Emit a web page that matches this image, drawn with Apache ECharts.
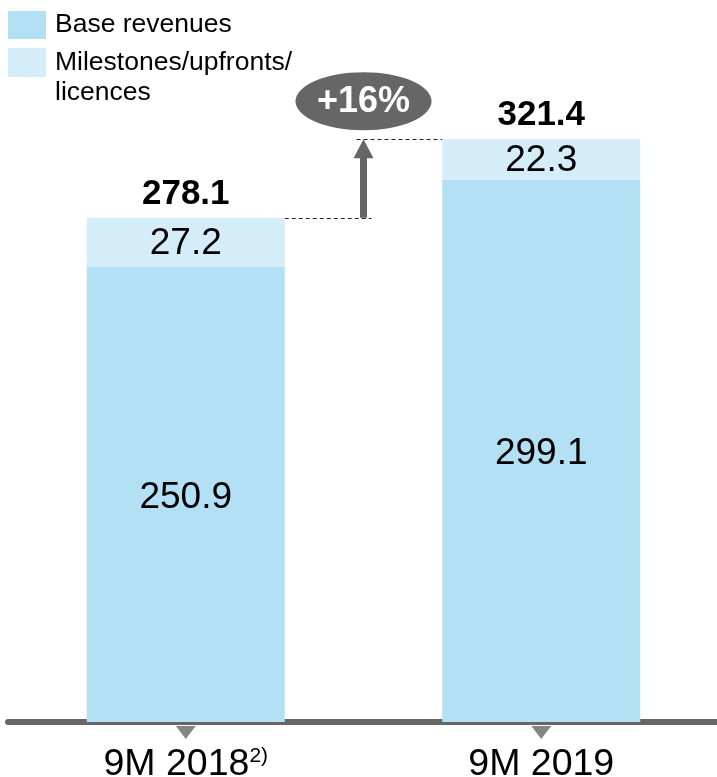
<!DOCTYPE html>
<html>
<head>
<meta charset="utf-8">
<script src="https://cdn.jsdelivr.net/npm/echarts@6/dist/echarts.min.js"></script>
<style>
  html, body { margin: 0; padding: 0; background: #fff; }
  #main { width: 717px; height: 777px; }
</style>
</head>
<body>
<div id="main"></div>
<script>
// values
var categories = ['9M 2018', '9M 2019'];
var footnotes = ['2)', ''];
var baseRevenues = [250.9, 299.1];
var milestones = [27.2, 22.3];
var totals = [278.1, 321.4];
var growthLabel = '+16%';

var baseColor = '#B3E0F5';
var mileColor = '#D5EDF9';
var grey = '#666666';
var font = 'Liberation Sans';
var barWidth = 198;

var dom = document.getElementById('main');
var myChart = echarts.init(dom);

option = {
    animation: false,
    textStyle: { fontFamily: font },
    legend: [
        {
            data: ['Base revenues'],
            orient: 'vertical',
            left: 8,
            top: 7,
            padding: 0,
            icon: 'rect',
            itemWidth: 38,
            itemHeight: 28,
            selectedMode: false,
            // top padding nudges the text down a bit next to the box
            textStyle: { fontSize: 26.5, lineHeight: 30, color: '#000', fontFamily: font, padding: [6, 0, 0, 4] }
        },
        {
            // wrapped entry: blank first line so the box sits next to the first text line
            data: ['Milestones/upfronts/licences'],
            orient: 'vertical',
            left: 8,
            top: 17.5,
            padding: 0,
            icon: 'rect',
            itemWidth: 38,
            itemHeight: 29,
            selectedMode: false,
            formatter: function (name) { return ' \nMilestones/upfronts/\nlicences'; },
            textStyle: { fontSize: 26.5, lineHeight: 30, color: '#000', fontFamily: font, padding: [0, 0, 0, 4] }
        }
    ],
    grid: { left: 8, right: -2, top: 33, bottom: 55, outerBoundsMode: 'none', containLabel: false },
    xAxis: {
        type: 'category',
        data: categories,
        offset: 3,
        axisLine: { lineStyle: { color: grey, width: 6 } },
        axisTick: { show: false },
        axisLabel: {
            color: '#000',
            fontSize: 37.5,
            lineHeight: 38,
            margin: 21,
            interval: 0,
            hideOverlap: false,
            fontFamily: font,
            formatter: function (v, i) {
                return footnotes[i] ? v + '{sup|' + footnotes[i] + '}' : v;
            },
            rich: {
                sup: { fontSize: 21, verticalAlign: 'top', lineHeight: 38, color: '#000', fontFamily: font }
            }
        }
    },
    yAxis: {
        type: 'value',
        min: 0,
        max: 380,
        show: false,
        splitLine: { show: false }
    },
    series: [
        {
            name: 'Base revenues',
            type: 'bar',
            stack: 'rev',
            barWidth: barWidth,
            data: baseRevenues,
            itemStyle: { color: baseColor },
            label: { show: true, position: 'inside', offset: [0, 3], color: '#000', fontSize: 37, fontFamily: font },
            silent: true
        },
        {
            name: 'Milestones/upfronts/licences',
            type: 'bar',
            stack: 'rev',
            barWidth: barWidth,
            data: milestones,
            itemStyle: { color: mileColor },
            label: { show: true, position: 'inside', offset: [0, 1], color: '#000', fontSize: 37, fontFamily: font },
            silent: true
        },
        {
            name: 'Total',
            type: 'bar',
            barWidth: barWidth,
            barGap: '-100%',
            data: totals,
            itemStyle: { color: 'rgba(0,0,0,0)' },
            label: { show: true, position: 'top', distance: 6, color: '#000', fontSize: 35, fontWeight: 'bold', fontFamily: font },
            silent: true,
            z: 1
        },
        {
            // little pointers under the axis
            type: 'scatter',
            data: categories.map(function (c) { return [c, 0]; }),
            symbol: 'triangle',
            symbolRotate: 180,
            symbolSize: [20, 13],
            symbolOffset: [0, 10.5],
            itemStyle: { color: grey },
            clip: false,
            silent: true,
            z: 3
        }
    ]
};
myChart.setOption(option);

// growth arrow, dashed guides and the +16% bubble, placed from the bar tops
var p1 = myChart.convertToPixel({ xAxisIndex: 0, yAxisIndex: 0 }, [categories[0], totals[0]]);
var p2 = myChart.convertToPixel({ xAxisIndex: 0, yAxisIndex: 0 }, [categories[1], totals[1]]);
var half = barWidth / 2;
var mid = (p1[0] + p2[0]) / 2;
var y1 = Math.round(p1[1]) + 0.5;
var y2 = Math.round(p2[1]) + 0.5;

myChart.setOption({
    graphic: [
        {
            type: 'line',
            shape: { x1: p1[0] + half, y1: y1, x2: mid + 8, y2: y1 },
            style: { stroke: '#1c1c5c', lineWidth: 1, lineDash: [4, 3] },
            silent: true
        },
        {
            type: 'line',
            shape: { x1: mid - 7, y1: y2, x2: p2[0] - half, y2: y2 },
            style: { stroke: '#1c1c5c', lineWidth: 1, lineDash: [4, 3] },
            silent: true
        },
        {
            type: 'line',
            shape: { x1: mid, y1: p1[1], x2: mid, y2: p2[1] + 17 },
            style: { stroke: grey, lineWidth: 7 },
            silent: true
        },
        {
            type: 'polygon',
            shape: { points: [[mid - 10, p2[1] + 19], [mid + 10, p2[1] + 19], [mid, p2[1]]] },
            style: { fill: grey },
            silent: true
        },
        {
            type: 'ellipse',
            shape: { cx: mid, cy: p2[1] - 38, rx: 68, ry: 29 },
            style: { fill: grey },
            silent: true
        },
        {
            type: 'text',
            x: mid,
            y: p2[1] - 37,
            style: {
                text: growthLabel,
                align: 'center',
                verticalAlign: 'middle',
                fill: '#fff',
                fontSize: 36,
                fontWeight: 'bold',
                fontFamily: font
            },
            silent: true
        }
    ]
});
</script>
</body>
</html>
